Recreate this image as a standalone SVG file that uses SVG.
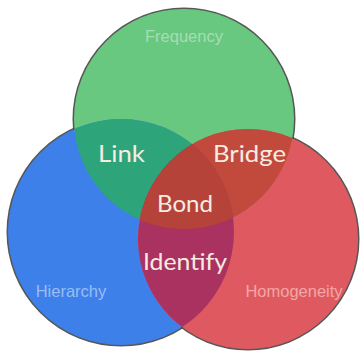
<svg xmlns="http://www.w3.org/2000/svg" width="362" height="351" viewBox="0 0 362 351">
  <style>
    .outline { fill: none; stroke: #3a3a3a; stroke-width: 3; stroke-opacity: 0.85; }
    .small { font-family: "Liberation Sans", Arial, sans-serif; font-size: 16.5px; text-anchor: middle; }
    .big { font-family: "Lato", "Liberation Sans", sans-serif; font-size: 23px; fill: #f7ece2; }
  </style>
  <defs>
    <circle id="cG" cx="184" cy="119" r="110"/>
    <circle id="cB" cx="121" cy="232" r="113"/>
    <circle id="cR" cx="248" cy="239" r="110"/>
    <clipPath id="clipG"><use href="#cG"/></clipPath>
    <clipPath id="clipB"><use href="#cB"/></clipPath>
    <clipPath id="clipR"><use href="#cR"/></clipPath>
  </defs>

  <g id="outlines">
    <use href="#cG" class="outline"/>
    <use href="#cB" class="outline"/>
    <use href="#cR" class="outline"/>
  </g>

  <g id="frequency">
    <use href="#cG" fill="#69c880"/>
  </g>
  <g id="hierarchy">
    <use href="#cB" fill="#3d80ea"/>
  </g>
  <g id="homogeneity">
    <use href="#cR" fill="#df5a60"/>
  </g>

  <g id="link" clip-path="url(#clipG)">
    <use href="#cB" fill="#2ea47b"/>
  </g>
  <g id="bridge" clip-path="url(#clipG)">
    <use href="#cR" fill="#c14a3d"/>
  </g>
  <g id="identify" clip-path="url(#clipB)">
    <use href="#cR" fill="#aa3260"/>
  </g>
  <g id="bond" clip-path="url(#clipG)">
    <g clip-path="url(#clipB)">
      <use href="#cR" fill="#b5433a"/>
    </g>
  </g>

  <g id="labels">
    <text class="small" x="184" y="42" fill="#a6deb3">Frequency</text>
    <text class="small" x="71" y="297" fill="#9bbcf3">Hierarchy</text>
    <text class="small" x="294" y="297" fill="#f2a6a6">Homogeneity</text>
    <text class="big" x="98" y="162" textLength="47" lengthAdjust="spacingAndGlyphs">Link</text>
    <text class="big" x="213" y="162" textLength="73" lengthAdjust="spacingAndGlyphs">Bridge</text>
    <text class="big" x="157" y="212" textLength="56" lengthAdjust="spacingAndGlyphs">Bond</text>
    <text class="big" x="143" y="270" textLength="84" lengthAdjust="spacingAndGlyphs">Identify</text>
  </g>
</svg>
